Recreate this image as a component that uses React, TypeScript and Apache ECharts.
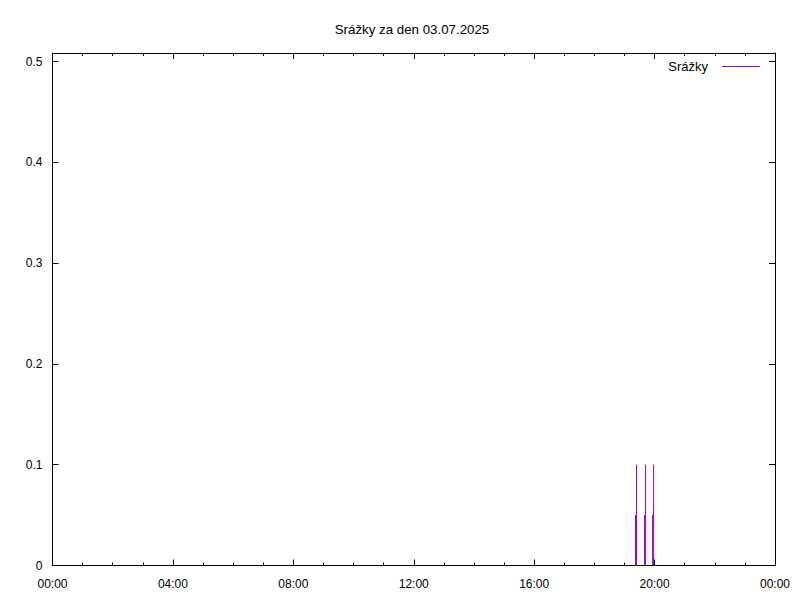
import React, { useEffect, useRef } from "react";
import * as echarts from "echarts";

const TITLE = "Srážky za den 03.07.2025";
const SERIES_NAME = "Srážky";
const times = ["19:22", "19:24", "19:40", "19:42", "19:56", "19:58"];
const values = [0.05, 0.1, 0.05, 0.1, 0.05, 0.1];
const yTicks = [0, 0.1, 0.2, 0.3, 0.4, 0.5];
const xTickLabels = ["00:00", "04:00", "08:00", "12:00", "16:00", "20:00", "00:00"];

const toMin = (t: string) => {
  const [h, m] = t.split(":").map(Number);
  return h * 60 + m;
};

const COLOR = "#9400d3";
const FONT = "Liberation Sans";

export default function App() {
  const ref = useRef<HTMLDivElement>(null);
  useEffect(() => {
    if (!ref.current) return;
    const chart = echarts.init(ref.current, undefined, { renderer: "svg" });
    const data = times.map((t, i) => [toMin(t), values[i]]);
    const xFmt = (v: number) => {
      const idx = Math.round(v / 240);
      return Math.abs(v - idx * 240) < 0.01 ? xTickLabels[idx] ?? "" : "";
    };
    const yFmt = (v: number) => {
      const hit = yTicks.find((t) => Math.abs(t - v) < 1e-6);
      return hit === undefined ? "" : String(hit);
    };
    const axisLine = { show: true, onZero: false, lineStyle: { color: "#000", width: 1 } };
    const tick = { show: true, inside: true, length: 6, lineStyle: { color: "#000" } };
    const minorX = { show: true, splitNumber: 4, length: 3, lineStyle: { color: "#000" } };
    chart.setOption({
      animation: false,
      backgroundColor: "#fff",
      title: {
        text: TITLE,
        left: 407,
        top: 18,
        textAlign: "center",
        textStyle: { fontFamily: FONT, fontSize: 13.3, fontWeight: "normal", color: "#000" },
      },
      legend: {
        data: [{ name: SERIES_NAME, icon: "rect" }],
        right: 35,
        top: 55,
        align: "right",
        itemWidth: 38,
        itemHeight: 1,
        itemGap: 10,
        textStyle: { fontFamily: FONT, fontSize: 13, color: "#000", padding: [0, 9, 0, 0] },
      },
      grid: { left: 52.5, top: 53, width: 722.5, height: 512.5, containLabel: false },
      xAxis: [
        {
          type: "value",
          min: 0,
          max: 1440,
          interval: 240,
          position: "bottom",
          axisLine,
          axisTick: tick,
          minorTick: minorX,
          splitLine: { show: false },
          axisLabel: {
            formatter: xFmt,
            margin: 12,
            fontFamily: FONT,
            fontSize: 12,
            color: "#000",
            showMinLabel: true,
            showMaxLabel: true,
          },
        },
        {
          type: "value",
          min: 0,
          max: 1440,
          interval: 240,
          position: "top",
          axisLine,
          axisTick: tick,
          minorTick: minorX,
          splitLine: { show: false },
          axisLabel: { show: false },
        },
      ],
      yAxis: [
        {
          type: "value",
          min: 0,
          max: 0.5085,
          interval: 0.1,
          position: "left",
          axisLine,
          axisTick: tick,
          splitLine: { show: false },
          axisLabel: {
            formatter: yFmt,
            margin: 10,
            fontFamily: FONT,
            fontSize: 12,
            color: "#000",
          },
        },
        {
          type: "value",
          min: 0,
          max: 0.5085,
          interval: 0.1,
          position: "right",
          axisLine,
          axisTick: tick,
          splitLine: { show: false },
          axisLabel: { show: false },
        },
      ],
      series: [
        {
          name: SERIES_NAME,
          type: "bar",
          xAxisIndex: 0,
          yAxisIndex: 0,
          barWidth: 1,
          itemStyle: { color: COLOR },
          data,
        },
      ],
    });
    return () => chart.dispose();
  }, []);
  return <div ref={ref} style={{ width: 800, height: 600, position: "absolute", left: 0, top: 0 }} />;
}
